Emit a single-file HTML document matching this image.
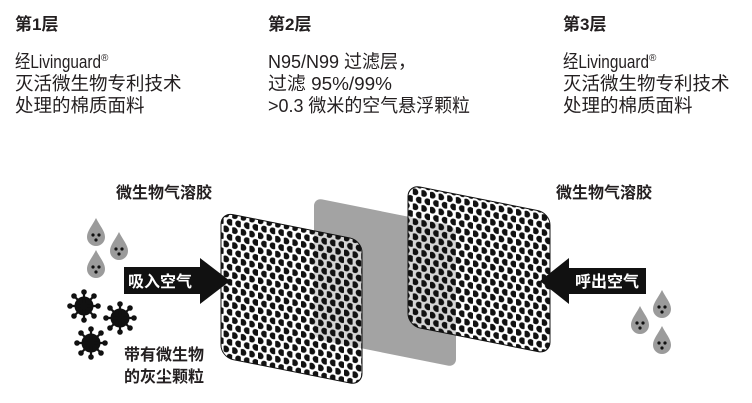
<!DOCTYPE html>
<html><head><meta charset="utf-8"><style>
html,body{margin:0;padding:0;background:#fff;}
svg{display:block}
text{font-family:"Liberation Sans","Noto Sans CJK SC",sans-serif;fill:#231f20}
.h{font-weight:bold;font-size:17px}
.b{font-size:18.5px}
.l{font-weight:bold;font-size:16px}
</style></head><body>
<svg width="752" height="403" viewBox="0 0 752 403" xmlns="http://www.w3.org/2000/svg">
<defs>
<pattern id="dots" width="8.6" height="15" patternUnits="userSpaceOnUse">
<circle cx="2.15" cy="3.75" r="3.4" fill="#111"/>
<circle cx="6.45" cy="11.25" r="3.4" fill="#111"/>
</pattern>
<g id="drop"><path d="M0,-16 C4,-8 9,-3 9,3 A9,9 0 0 1 -9,3 C-9,-3 -4,-8 0,-16Z" fill="#9b9b9b"/>
<circle cx="-3" cy="1" r="1.6" fill="#111"/><circle cx="3" cy="1" r="1.6" fill="#111"/><circle cx="0" cy="6" r="1.6" fill="#111"/></g>
<g id="virus" fill="#111" stroke="#111">
<circle r="9"/>
<g stroke-width="2.2"><line x1="0" y1="-14" x2="0" y2="14"/><line x1="-14" y1="0" x2="14" y2="0"/><line x1="-10" y1="-10" x2="10" y2="10"/><line x1="-10" y1="10" x2="10" y2="-10"/></g>
<circle cx="0" cy="-14" r="2.3"/><circle cx="0" cy="14" r="2.3"/><circle cx="-14" cy="0" r="2.3"/><circle cx="14" cy="0" r="2.3"/>
<circle cx="-10" cy="-10" r="2.3"/><circle cx="10" cy="10" r="2.3"/><circle cx="-10" cy="10" r="2.3"/><circle cx="10" cy="-10" r="2.3"/>
</g>
</defs>
<text class="h" x="15" y="30">第1层</text>
<text class="h" x="268" y="30">第2层</text>
<text class="h" x="563" y="30">第3层</text>
<text class="b" x="15" y="68"><tspan textLength="86" lengthAdjust="spacingAndGlyphs">经Livinguard</tspan><tspan font-size="10" dy="-7">®</tspan></text>
<text class="b" x="15" y="90">灭活微生物专利技术</text>
<text class="b" x="15" y="112">处理的棉质面料</text>
<text class="b" x="268" y="68" textLength="148" lengthAdjust="spacingAndGlyphs">N95/N99 过滤层，</text>
<text class="b" x="268" y="90" textLength="124" lengthAdjust="spacingAndGlyphs">过滤 95%/99%</text>
<text class="b" x="268" y="112" textLength="202" lengthAdjust="spacingAndGlyphs">&gt;0.3 微米的空气悬浮颗粒</text>
<text class="b" x="563" y="68"><tspan textLength="86" lengthAdjust="spacingAndGlyphs">经Livinguard</tspan><tspan font-size="10" dy="-7">®</tspan></text>
<text class="b" x="563" y="90">灭活微生物专利技术</text>
<text class="b" x="563" y="112">处理的棉质面料</text>

<g transform="matrix(1,0.2,0,1,0,0)">
<rect x="314" y="135" width="142" height="141" rx="8" fill="#a3a3a3"/>
</g>
<g transform="matrix(1,0.2,0,1,0,0)">
<rect x="221" y="168" width="141" height="145" rx="12" fill="#fff" fill-opacity="0.55" stroke="#111" stroke-width="1"/>
<rect x="221" y="168" width="141" height="145" rx="12" fill="url(#dots)"/>
</g>
<g transform="matrix(1,0.2,0,1,0,0)">
<rect x="408" y="103" width="142" height="141" rx="12" fill="#fff" fill-opacity="0.55" stroke="#111" stroke-width="1"/>
<rect x="408" y="103" width="142" height="141" rx="12" fill="url(#dots)"/>
</g>

<path d="M124,267 H200 V258 L230,281 L200,304 V294 H124Z" fill="#111"/>
<text class="l" x="128" y="287" style="fill:#fff">吸入空气</text>
<path d="M646,268 H569 V258 L540,281 L569,304 V294 H646Z" fill="#111"/>
<text class="l" x="575" y="287" style="fill:#fff">呼出空气</text>

<text class="l" x="116" y="198">微生物气溶胶</text>
<text class="l" x="556" y="198">微生物气溶胶</text>
<text class="l" x="124" y="360">带有微生物</text>
<text class="l" x="124" y="382">的灰尘颗粒</text>

<use href="#drop" x="96" y="234"/>
<use href="#drop" x="119" y="248"/>
<use href="#drop" x="96" y="266"/>
<use href="#drop" x="662" y="306"/>
<use href="#drop" x="640" y="322"/>
<use href="#drop" x="662" y="342"/>
<use href="#virus" x="84" y="306"/>
<use href="#virus" x="120" y="318"/>
<use href="#virus" x="91" y="343"/>
</svg>
</body></html>
